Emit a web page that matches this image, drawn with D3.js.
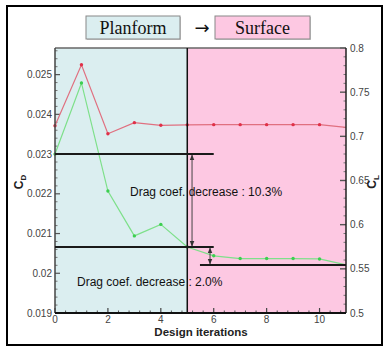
<!DOCTYPE html>
<html>
<head>
<meta charset="utf-8">
<script src="https://cdn.jsdelivr.net/npm/d3@7"></script>
<style>
  html, body { margin: 0; padding: 0; background: #fff; }
  svg { display: block; }
</style>
</head>
<body>
<svg id="chart" width="387" height="349"></svg>
<script>
// Design iteration history: drag coefficient (left axis) and lift coefficient (right axis)
const iterations = [0, 1, 2, 3, 4, 5, 6, 7, 8, 9, 10, 11];
const cdValues = [0.0230, 0.02479, 0.02207, 0.02094, 0.02123, 0.02066, 0.02044, 0.02037, 0.02037, 0.02037, 0.02036, 0.02021];
const clValues = [0.712, 0.781, 0.703, 0.7155, 0.7125, 0.713, 0.7132, 0.7132, 0.7132, 0.7132, 0.7132, 0.7102];

const phaseNames = ["Planform", "Surface"];
const phaseBreak = 5;

const xTicks = [0, 2, 4, 6, 8, 10];
const cdTicks = [0.019, 0.020, 0.021, 0.022, 0.023, 0.024, 0.025];
const cdTickLabels = ["0.019", "0.02", "0.021", "0.022", "0.023", "0.024", "0.025"];
const clTicks = [0.5, 0.55, 0.6, 0.65, 0.7, 0.75, 0.8];
const clTickLabels = ["0.5", "0.55", "0.6", "0.65", "0.7", "0.75", "0.8"];

// Drag reduction annotations
const dragLevels = [0.0230, 0.02066, 0.02021];
const dragNotes = ["Drag coef. decrease : 10.3%", "Drag coef. decrease : 2.0%"];

const svg = d3.select("#chart");
const L = 55, R = 346, T = 48, B = 313;

const x = d3.scaleLinear().domain([0, 11]).range([L, R]);
const yCd = d3.scaleLinear().domain([0.019, 0.02567]).range([B, T]);
const yCl = d3.scaleLinear().domain([0.5, 0.8]).range([B, T]);

// outer frame
svg.append("rect").attr("x", 7).attr("y", 6).attr("width", 375).attr("height", 339)
  .attr("fill", "#fff").attr("stroke", "#000").attr("stroke-width", 2);

// phase backgrounds
svg.append("rect").attr("x", x(0)).attr("y", T).attr("width", x(phaseBreak) - x(0)).attr("height", B - T)
  .attr("fill", "#dbeef0");
svg.append("rect").attr("x", x(phaseBreak)).attr("y", T).attr("width", x(11) - x(phaseBreak)).attr("height", B - T)
  .attr("fill", "#fdc8e2");

// phase title boxes
const boxes = [{ x0: 86, x1: 180, fill: "#dbeef0" }, { x0: 215, x1: 310, fill: "#fdc8e2" }];
boxes.forEach((b, i) => {
  svg.append("rect").attr("x", b.x0 + 1).attr("y", 17).attr("width", b.x1 - b.x0).attr("height", 23)
    .attr("fill", "#999").attr("opacity", 0.5);
  svg.append("rect").attr("x", b.x0).attr("y", 16).attr("width", b.x1 - b.x0).attr("height", 23)
    .attr("fill", b.fill).attr("stroke", "#888").attr("stroke-width", 1);
  svg.append("text").attr("x", (b.x0 + b.x1) / 2).attr("y", 34)
    .attr("text-anchor", "middle").attr("font-family", "Liberation Serif, Times New Roman, serif")
    .attr("font-size", 18).attr("fill", "#111").text(phaseNames[i]);
});
svg.append("text").attr("x", 202).attr("y", 34).attr("text-anchor", "middle")
  .attr("font-family", "DejaVu Sans, sans-serif").attr("font-size", 18)
  .attr("fill", "#111").text("\u2192");

// axes with inward ticks
const font = "Liberation Sans, Arial, sans-serif";
function minorTicks(majors, n) {
  const out = [];
  for (let i = 0; i < majors.length - 1; i++) {
    const s = (majors[i + 1] - majors[i]) / n;
    for (let k = 1; k < n; k++) out.push(majors[i] + k * s);
  }
  return out;
}

const gAxes = svg.append("g");
// bottom axis
const xMinor = minorTicks([0, 2, 4, 6, 8, 10, 12], 5).filter(v => v < 11);
gAxes.selectAll(".xmin").data(xMinor).enter().append("line")
  .attr("x1", d => x(d)).attr("x2", d => x(d)).attr("y1", B).attr("y2", B - 2.5)
  .attr("stroke", "#555").attr("stroke-width", 1);
gAxes.selectAll(".xmaj").data(xTicks).enter().append("line")
  .attr("x1", d => x(d)).attr("x2", d => x(d)).attr("y1", B).attr("y2", B - 5)
  .attr("stroke", "#444").attr("stroke-width", 1.2);
gAxes.selectAll(".xlab").data(xTicks).enter().append("text")
  .attr("x", d => x(d)).attr("y", B + 10).attr("text-anchor", "middle")
  .attr("font-family", font).attr("font-size", 10).attr("fill", "#444").text(d => d);

// left axis
const cdMinor = minorTicks(cdTicks.concat([0.026]), 5).filter(v => v < 0.02567);
gAxes.selectAll(".lmin").data(cdMinor).enter().append("line")
  .attr("x1", L).attr("x2", L + 2.5).attr("y1", d => yCd(d)).attr("y2", d => yCd(d))
  .attr("stroke", "#777").attr("stroke-width", 1);
gAxes.selectAll(".lmaj").data(cdTicks).enter().append("line")
  .attr("x1", L).attr("x2", L + 5).attr("y1", d => yCd(d)).attr("y2", d => yCd(d))
  .attr("stroke", "#555").attr("stroke-width", 1.2);
gAxes.selectAll(".llab").data(cdTicks).enter().append("text")
  .attr("x", L - 3).attr("y", d => yCd(d) + 3.5).attr("text-anchor", "end")
  .attr("font-family", font).attr("font-size", 10).attr("fill", "#444")
  .text((d, i) => cdTickLabels[i]);

// right axis
const clMinor = minorTicks(clTicks, 5);
gAxes.selectAll(".rmin").data(clMinor).enter().append("line")
  .attr("x1", R).attr("x2", R - 2.5).attr("y1", d => yCl(d)).attr("y2", d => yCl(d))
  .attr("stroke", "#777").attr("stroke-width", 1);
gAxes.selectAll(".rmaj").data(clTicks).enter().append("line")
  .attr("x1", R).attr("x2", R - 6).attr("y1", d => yCl(d)).attr("y2", d => yCl(d))
  .attr("stroke", "#555").attr("stroke-width", 1.4);
gAxes.selectAll(".rlab").data(clTicks).enter().append("text")
  .attr("x", R + 4).attr("y", d => yCl(d) + 3.5).attr("text-anchor", "start")
  .attr("font-family", font).attr("font-size", 10).attr("fill", "#444")
  .text((d, i) => clTickLabels[i]);

// data lines
const lineCd = d3.line().x((d, i) => x(iterations[i])).y(d => yCd(d));
const lineCl = d3.line().x((d, i) => x(iterations[i])).y(d => yCl(d));
svg.append("path").attr("d", lineCl(clValues)).attr("fill", "none")
  .attr("stroke", "#e07080").attr("stroke-width", 1.2);
svg.append("path").attr("d", lineCd(cdValues)).attr("fill", "none")
  .attr("stroke", "#7ee08a").attr("stroke-width", 1.2);
svg.selectAll(".clpt").data(clValues.slice(0, 11)).enter().append("circle")
  .attr("cx", (d, i) => x(iterations[i])).attr("cy", d => yCl(d)).attr("r", 1.7)
  .attr("fill", "#e03048");
svg.selectAll(".cdpt").data(cdValues.slice(0, 11)).enter().append("circle")
  .attr("cx", (d, i) => x(iterations[i])).attr("cy", d => yCd(d)).attr("r", 1.7)
  .attr("fill", "#3ccf50");

// plot frame
svg.append("line").attr("x1", L).attr("x2", R).attr("y1", T).attr("y2", T).attr("stroke", "#666").attr("stroke-width", 1.5);
svg.append("line").attr("x1", L).attr("x2", L).attr("y1", T).attr("y2", B).attr("stroke", "#444").attr("stroke-width", 1.5);
svg.append("line").attr("x1", R).attr("x2", R).attr("y1", T).attr("y2", B).attr("stroke", "#222").attr("stroke-width", 1.5);
svg.append("line").attr("x1", L).attr("x2", R).attr("y1", B).attr("y2", B).attr("stroke", "#111").attr("stroke-width", 2);
svg.append("line").attr("x1", x(phaseBreak)).attr("x2", x(phaseBreak)).attr("y1", T).attr("y2", B)
  .attr("stroke", "#111").attr("stroke-width", 1.5);

// annotation guide lines
const guides = [
  { v: dragLevels[0], a: 0, b: 6 },
  { v: dragLevels[1], a: 0, b: 6 },
  { v: dragLevels[2], a: 5.48, b: 11 }
];
svg.selectAll(".guide").data(guides).enter().append("line")
  .attr("x1", d => x(d.a)).attr("x2", d => x(d.b))
  .attr("y1", d => yCd(d.v)).attr("y2", d => yCd(d.v))
  .attr("stroke", "#1a1a1a").attr("stroke-width", 2);

// double-headed arrows
const defs = svg.append("defs");
defs.append("marker").attr("id", "ah").attr("viewBox", "0 0 10 10").attr("refX", 9).attr("refY", 5)
  .attr("markerWidth", 6).attr("markerHeight", 6).attr("orient", "auto-start-reverse")
  .append("path").attr("d", "M0,1 L10,5 L0,9 Z").attr("fill", "#333");
const arrows = [
  { xv: 5.18, v0: dragLevels[0], v1: dragLevels[1] },
  { xv: 5.86, v0: dragLevels[1], v1: dragLevels[2] }
];
svg.selectAll(".arr").data(arrows).enter().append("line")
  .attr("x1", d => x(d.xv)).attr("x2", d => x(d.xv))
  .attr("y1", d => yCd(d.v0) + 1).attr("y2", d => yCd(d.v1) - 1)
  .attr("stroke", "#444").attr("stroke-width", 1)
  .attr("marker-start", "url(#ah)").attr("marker-end", "url(#ah)");

// annotation text
svg.append("text").attr("x", 130).attr("y", 196).attr("font-family", font).attr("font-size", 12)
  .attr("fill", "#111").text(dragNotes[0]);
svg.append("text").attr("x", 77).attr("y", 286).attr("font-family", font).attr("font-size", 12)
  .attr("fill", "#111").text(dragNotes[1]);

// axis titles
svg.append("text").attr("x", 201).attr("y", 336).attr("text-anchor", "middle")
  .attr("font-family", font).attr("font-size", 11.5).attr("font-weight", "bold")
  .attr("fill", "#222").text("Design iterations");

function axisTitle(cx, cy, main, sub) {
  const t = svg.append("text").attr("transform", `translate(${cx},${cy}) rotate(-90)`)
    .attr("text-anchor", "middle").attr("font-family", font).attr("font-weight", "bold")
    .attr("font-size", 12).attr("fill", "#222");
  t.append("tspan").text(main);
  t.append("tspan").attr("font-size", 8).attr("dy", 3).text(sub);
}
axisTitle(23, 182, "C", "D");
axisTitle(376, 182, "C", "L");
</script>
</body>
</html>
